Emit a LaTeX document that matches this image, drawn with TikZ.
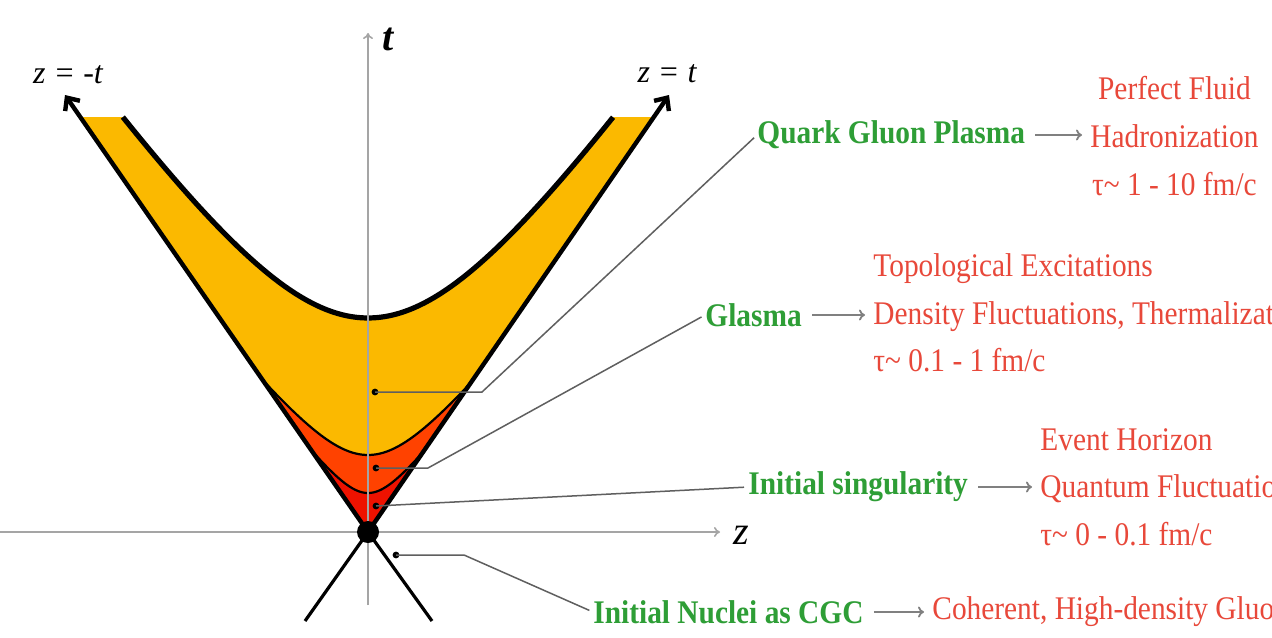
\documentclass[tikz,border=0pt]{standalone}
\usepackage{fontspec}
\setmainfont{Liberation Serif}
\newfontfamily\labfont{Liberation Serif}[FakeStretch=0.89]
\usetikzlibrary{arrows.meta}
\definecolor{yel}{RGB}{251,185,0}
\definecolor{ora}{RGB}{255,66,0}
\definecolor{redd}{RGB}{238,18,0}
\definecolor{grn}{RGB}{46,158,54}
\definecolor{rtxt}{RGB}{232,72,58}
\definecolor{ptr}{RGB}{95,95,95}
\definecolor{axc}{RGB}{165,165,165}
\begin{document}
\begin{tikzpicture}[x=0.5pt,y=-0.5pt,
  phase/.style={font=\labfont\bfseries\fontsize{16.5}{24}\selectfont, text=grn, inner sep=0pt, anchor=west},
  redtxt/.style={font=\labfont\fontsize{16.5}{23.8}\selectfont, text=rtxt, inner sep=0pt, anchor=west, align=left},
  mathlab/.style={font=\fontsize{16}{18}\selectfont\itshape, inner sep=0pt},
  dotmark/.style={circle, fill=black, inner sep=0pt, minimum size=3.4pt},
  pointer/.style={draw=ptr, line width=0.75pt, shorten >=2pt},
  leadarrow/.style={draw=gray, line width=0.9pt, -{To[length=3pt,width=5.5pt]}, shorten <=5pt, shorten >=4pt},
  cone/.style={line width=2.2pt, -{Straight Barb[length=5pt,width=9pt]}},
  axisline/.style={draw=axc, line width=0.8pt, -{To[length=3pt,width=5pt]}}]
\fill[white] (0,0) rectangle (1272,637);
\useasboundingbox (0,0) rectangle (1272,637);
\coordinate (org) at (368,532);
\coordinate (zl) at (65,95);
\coordinate (zr) at (669,95);
\coordinate (tb) at (368,605);
\coordinate (tt) at (368,33);
\coordinate (zb) at (0,532);
\coordinate (zt) at (720,532);
\coordinate (nl) at (305,621);
\coordinate (nr) at (432,621);
% yellow band
\fill[yel] (org) -- (81.8,117) -- plot[domain=-1.281:1.281, samples=80, variable=\s] ({368+214*sinh(\s)/1.45},{532-214*cosh(\s)}) -- (654.2,117) -- cycle;
% red bands
\begin{scope}
\clip (org) -- (81.8,117) -- (654.2,117) -- cycle;
\fill[ora] plot[domain=-2.2:2.2, samples=80, variable=\s] ({368+77*sinh(\s)/1.244},{532-77*cosh(\s)}) -- (700,560) -- (30,560) -- cycle;
\fill[redd] plot[domain=-2.2:2.2, samples=80, variable=\s] ({368+39*sinh(\s)/1.266},{532-39*cosh(\s)}) -- (700,560) -- (30,560) -- cycle;
\draw[line width=1.1pt] plot[domain=-2.2:2.2, samples=80, variable=\s] ({368+77*sinh(\s)/1.244},{532-77*cosh(\s)});
\draw[line width=1.1pt] plot[domain=-2.2:2.2, samples=80, variable=\s] ({368+39*sinh(\s)/1.266},{532-39*cosh(\s)});
\end{scope}
% outer hyperbola
\draw[line width=2.6pt] plot[domain=-1.281:1.281, samples=80, variable=\s] ({368+214*sinh(\s)/1.45},{532-214*cosh(\s)});
% light cone
\draw[cone] (org) -- (zl);
\draw[cone] (org) -- (zr);
% axes
\draw[axisline] (tb) -- (tt);
\draw[axisline] (zb) -- (zt);
% incoming nuclei
\draw[line width=1.6pt] (org) -- (nl);
\draw[line width=1.6pt] (org) -- (nr);
\node[circle, fill=black, inner sep=0pt, minimum size=11pt] (O) at (org) {};
% axis labels
\node[mathlab, font=\fontsize{20}{22}\selectfont\bfseries\itshape] (tlab) at (388,39) {t};
\node[mathlab, font=\fontsize{20}{22}\selectfont\itshape] (zlab) at (741,535) {z};
\node[mathlab] (zmt) at (68,75) {z = -t};
\node[mathlab] (zpt) at (667,74) {z = t};
% phase labels
\node[phase] (qgp) at (757,135) {Quark Gluon Plasma};
\node[redtxt, align=center] (qgpr) at (1090,136) {Perfect Fluid\\Hadronization\\τ\textasciitilde{} 1 - 10 fm/c};
\node[phase] (gla) at (705,315) {Glasma};
\node[redtxt] (glar) at (873,313) {Topological Excitations\\Density Fluctuations, Thermalizat\\τ\textasciitilde{} 0.1 - 1 fm/c};
\node[phase] (sing) at (748,487) {Initial singularity};
\node[redtxt] (singr) at (1040,487) {Event Horizon\\Quantum Fluctuatio\\τ\textasciitilde{} 0 - 0.1 fm/c};
\node[phase] (cgc) at (593,612) {Initial Nuclei as CGC};
\node[redtxt] (cgcr) at (932,612) {Coherent, High-density Gluo};
% lead arrows
\draw[leadarrow] (qgp.east) -- (qgp.east -| qgpr.west);
\draw[leadarrow] (gla.east) -- (gla.east -| glar.west);
\draw[leadarrow] (sing.east) -- (sing.east -| singr.west);
\draw[leadarrow] (cgc.east) -- (cgcr.west);
% pointer dots and lines
\node[dotmark] (d1) at (375,392) {};
\node[dotmark] (d2) at (376,468) {};
\node[dotmark] (d3) at (376,506) {};
\node[dotmark] (d4) at (396,555) {};
\draw[pointer] (d1.center) -- ++(107,0) -- (qgp.west);
\draw[pointer] (d2.center) -- ++(52,0) -- (gla.west);
\draw[pointer] (d3.center) -- (sing.west);
\draw[pointer] (d4.center) -- ++(68,0) -- (cgc.west);
\end{tikzpicture}
\end{document}
